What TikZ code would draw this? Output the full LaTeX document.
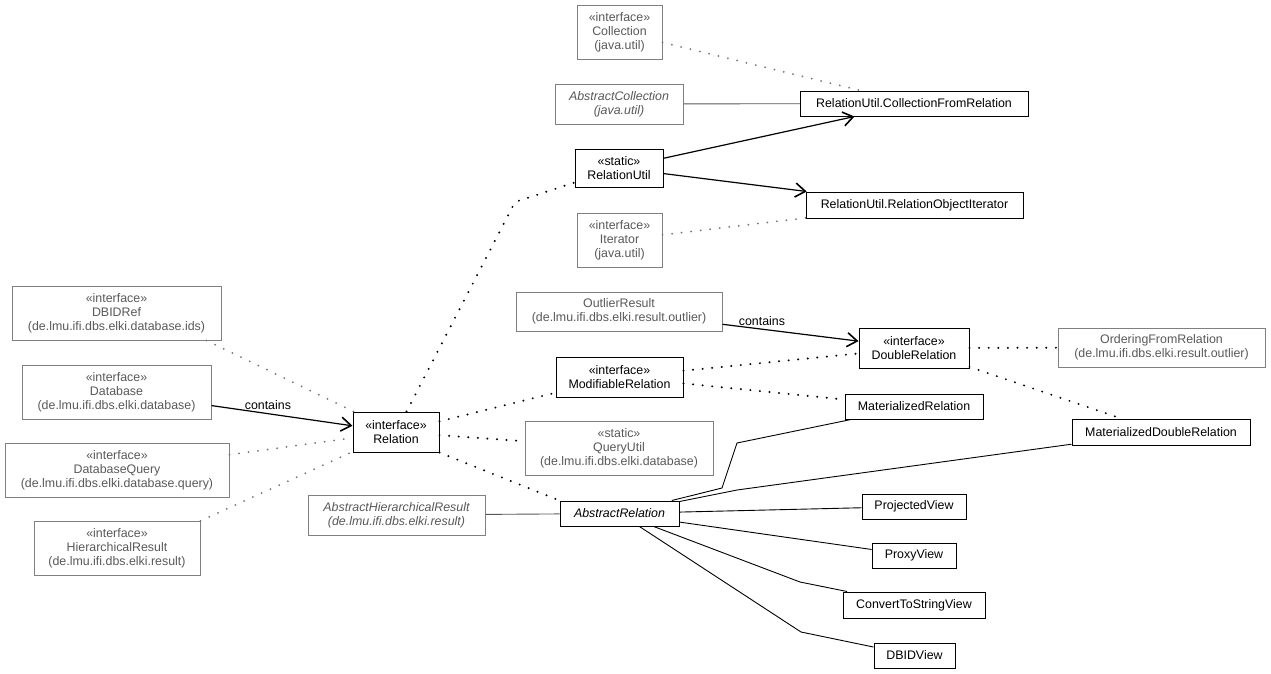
\documentclass[tikz,border=0pt]{standalone}
\usepackage{fontspec}
\setmainfont{Liberation Sans}
\usetikzlibrary{arrows.meta,calc}
\begin{document}
\begin{tikzpicture}[x=1pt,y=-1pt,
  cls/.style={draw=black, line width=1pt, fill=white, inner sep=0pt, align=center, text=black, font=\fontsize{12.4}{14}\selectfont},
  ext/.style={cls, draw=black!50, text=black!65},
  ital/.style={font=\fontsize{12.4}{14}\selectfont\itshape},
  dotb/.style={draw=black, line width=2.2pt, dash pattern=on 0pt off 9.6pt, line cap=round},
  dotg/.style={draw=black!55, line width=2pt, dash pattern=on 0pt off 9.6pt, line cap=round},
  plainb/.style={draw=black, line width=0.9pt},
  plaing/.style={draw=black!65, line width=0.9pt},
  assoc/.style={draw=black, line width=1.2pt, -{Straight Barb[length=10pt,width=14pt,line width=1.6pt]}},
  lbl/.style={inner sep=1pt, text=black, font=\fontsize{12.4}{14}\selectfont}]
\path[fill=white] (0,0) rectangle (1271,673);
\useasboundingbox (0,0) rectangle (1271,673);

% nodes
\node[ext, minimum width=85pt, minimum height=54pt] (coll) at (619.5,32) {«interface»\\Collection\\(java.util)};
\node[ext, ital, minimum width=128pt, minimum height=40pt] (acoll) at (619,104) {AbstractCollection\\(java.util)};
\node[cls, minimum width=228pt, minimum height=25pt] (cfr) at (914,103.5) {RelationUtil.CollectionFromRelation};
\node[cls, minimum width=88pt, minimum height=38pt] (ru) at (619,168) {«static»\\RelationUtil};
\node[cls, minimum width=217pt, minimum height=26pt] (roi) at (914.5,205) {RelationUtil.RelationObjectIterator};
\node[ext, minimum width=85pt, minimum height=54pt] (iter) at (619.5,240) {«interface»\\Iterator\\(java.util)};
\node[ext, minimum width=209pt, minimum height=54pt] (dbidref) at (116.5,313) {«interface»\\DBIDRef\\(de.lmu.ifi.dbs.elki.database.ids)};
\node[ext, minimum width=189pt, minimum height=54pt] (db) at (116.5,392) {«interface»\\Database\\(de.lmu.ifi.dbs.elki.database)};
\node[ext, minimum width=224pt, minimum height=54pt] (dbq) at (117,470) {«interface»\\DatabaseQuery\\(de.lmu.ifi.dbs.elki.database.query)};
\node[ext, minimum width=166pt, minimum height=54pt] (hr) at (117,548) {«interface»\\HierarchicalResult\\(de.lmu.ifi.dbs.elki.result)};
\node[cls, minimum width=86pt, minimum height=40pt] (rel) at (396,432) {«interface»\\Relation};
\node[ext, minimum width=206pt, minimum height=39pt] (outl) at (619,311.5) {OutlierResult\\(de.lmu.ifi.dbs.elki.result.outlier)};
\node[cls, minimum width=127pt, minimum height=40pt] (modrel) at (619.5,377) {«interface»\\ModifiableRelation};
\node[ext, minimum width=188pt, minimum height=54pt] (qu) at (619,448) {«static»\\QueryUtil\\(de.lmu.ifi.dbs.elki.database)};
\node[ext, ital, minimum width=177pt, minimum height=40pt] (ahr) at (396.5,515) {AbstractHierarchicalResult\\(de.lmu.ifi.dbs.elki.result)};
\node[cls, ital, minimum width=119pt, minimum height=25pt] (ar) at (619.5,513.5) {AbstractRelation};
\node[cls, minimum width=110pt, minimum height=40pt] (dr) at (914,348) {«interface»\\DoubleRelation};
\node[ext, minimum width=207pt, minimum height=39pt] (ofr) at (1161.5,347.5) {OrderingFromRelation\\(de.lmu.ifi.dbs.elki.result.outlier)};
\node[cls, minimum width=138pt, minimum height=25pt] (mr) at (914,406.5) {MaterializedRelation};
\node[cls, minimum width=178pt, minimum height=26pt] (mdr) at (1161,432) {MaterializedDoubleRelation};
\node[cls, minimum width=104pt, minimum height=25pt] (pv) at (914,506.5) {ProjectedView};
\node[cls, minimum width=84pt, minimum height=25pt] (prv) at (914,555.5) {ProxyView};
\node[cls, minimum width=142pt, minimum height=26pt] (ctsv) at (914,605) {ConvertToStringView};
\node[cls, minimum width=81pt, minimum height=25pt] (dbidv) at (914.5,655.5) {DBIDView};

% bend points
\coordinate (b1) at (515,202);
\coordinate (b2) at (722,488);
\coordinate (b3) at (737,443);
\coordinate (b4) at (737,490);
\coordinate (b5) at (800,582);
\coordinate (b6) at (801,632);

% edges
\draw[dotg] (coll) -- (cfr);
\draw[plaing] (acoll) -- (cfr);
\draw[assoc] (ru) -- (cfr);
\draw[assoc] (ru) -- (roi);
\draw[dotg] (iter) -- (roi);
\draw[dotb] (rel) -- (b1) -- (ru);
\draw[dotg] (dbidref.-17.3) -- (rel);
\draw[assoc] (db) -- node[lbl, pos=0.4, above, yshift=2pt] (lc1) {contains} (rel);
\draw[dotg] (dbq) -- (rel);
\draw[dotg] (hr.18) -- (rel);
\draw[dotb] (rel) -- (modrel);
\draw[dotb] (rel) -- (qu);
\draw[dotb] (rel.south east) -- (ar.north west);
\draw[plaing] (ahr) -- (ar);
\draw[assoc] (outl) -- node[lbl, pos=0.29, above, yshift=2pt] (lc2) {contains} (dr);
\draw[dotb] (modrel) -- (dr);
\draw[dotb] (modrel) -- (mr);
\draw[dotb] (dr) -- (ofr);
\draw[dotb] (dr) -- (mdr);
\draw[plainb] (ar) -- (b2) -- (b3) -- (mr);
\draw[plainb] (ar) -- (b4) -- (mdr);
\draw[plainb] (ar) -- (pv);
\draw[plainb] (ar) -- (prv);
\draw[plainb] (ar) -- (b5) -- (ctsv);
\draw[plainb] (ar) -- (b6) -- (dbidv);
\end{tikzpicture}
\end{document}
